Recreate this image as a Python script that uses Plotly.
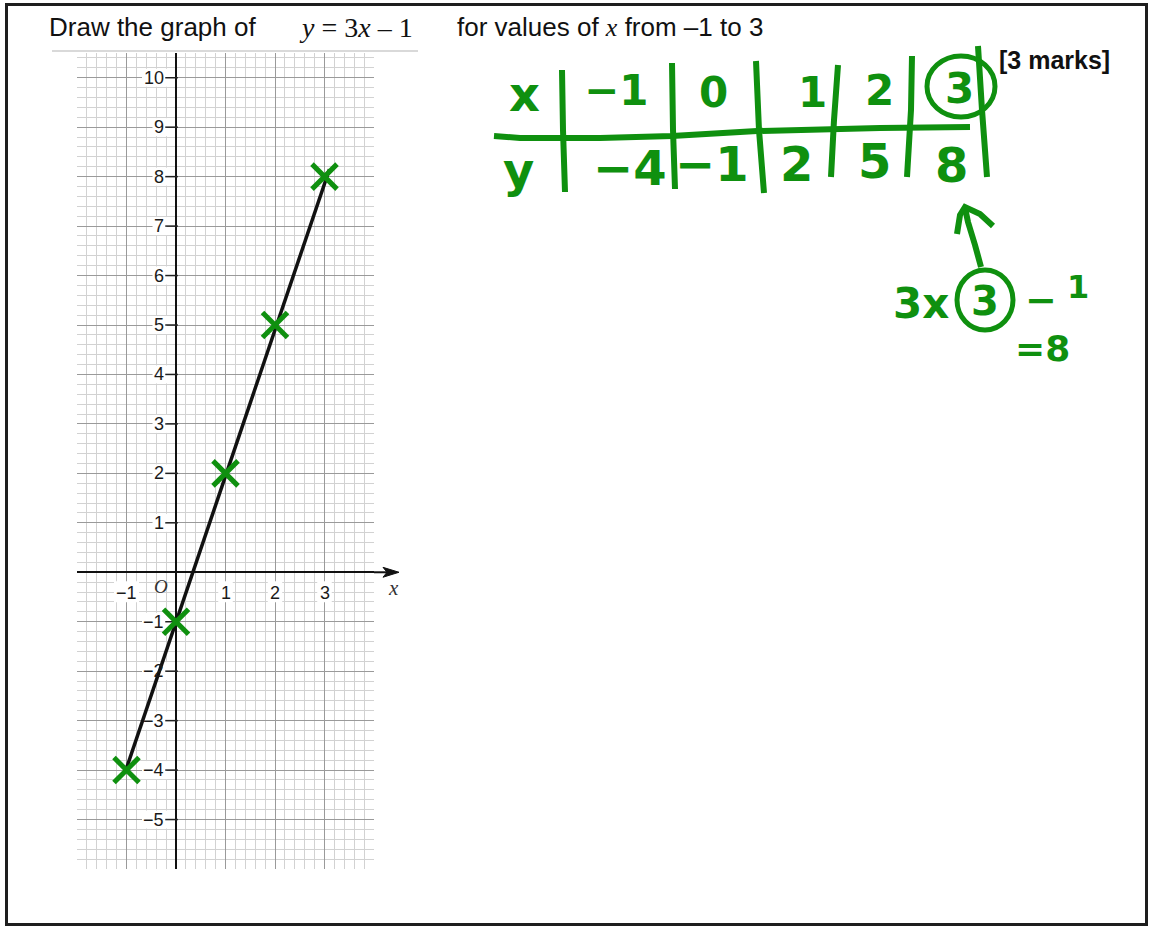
import plotly.graph_objects as go

W, H = 1149, 926

# values of x and y = 3x - 1 from the table of values
table_x = [-1, 0, 1, 2, 3]
table_y = [-4, -1, 2, 5, 8]

# ends of the ruled line through the plotted points
line_x = [-1.03, 3.1]
line_y = [-4.05, 8.15]

# axis numbering
y_tick_vals = [10, 9, 8, 7, 6, 5, 4, 3, 2, 1, -1, -2, -3, -4, -5]
y_tick_text = ["10", "9", "8", "7", "6", "5", "4", "3", "2", "1",
               "−1", "−2", "−3", "−4", "−5"]
x_tick_vals = [-1, 1, 2, 3]
x_tick_text = ["−1", "1", "2", "3"]

GREEN = "#0f900f"
INK = "#111111"
LABEL = "#1a1a1a"
TICK_SIZE = 18


def px(x):
    return x / W


def py(y):
    return 1 - y / H


def path(points):
    return "M " + " L ".join(f"{px(a):.5f},{py(b):.5f}" for a, b in points)


fig = go.Figure()

# short tick marks to the left of the y axis
fig.add_trace(go.Scatter(
    x=[-0.09] * len(y_tick_vals), y=y_tick_vals, mode="markers",
    marker=dict(symbol="line-ew-open", size=9, color="#222",
                line=dict(color="#222", width=1.5)),
    hoverinfo="skip"))

# ruled straight line
fig.add_trace(go.Scatter(
    x=line_x, y=line_y, mode="lines",
    line=dict(color=INK, width=3.5), hoverinfo="skip"))

# plotted crosses
fig.add_trace(go.Scatter(
    x=table_x, y=table_y, mode="markers",
    marker=dict(symbol="x-thin", size=25, color=GREEN,
                line=dict(color=GREEN, width=5)),
    hoverinfo="skip"))

grid_major = "#9a9a9a"
grid_minor = "#d2d2d2"

fig.update_layout(
    width=W, height=H,
    margin=dict(l=0, r=0, t=0, b=0),
    paper_bgcolor="white", plot_bgcolor="white",
    showlegend=False,
    xaxis=dict(
        domain=[px(77), px(374)], range=[-2, 4],
        tick0=0, dtick=1, showgrid=True, gridcolor=grid_major, gridwidth=1,
        minor=dict(tick0=0, dtick=0.2, showgrid=True,
                   gridcolor=grid_minor, gridwidth=1),
        zeroline=True, zerolinecolor=INK, zerolinewidth=2,
        showticklabels=False, ticks="", showline=False, fixedrange=True),
    yaxis=dict(
        domain=[py(869), py(53)], range=[-6, 10.5],
        tick0=0, dtick=1, showgrid=True, gridcolor=grid_major, gridwidth=1,
        minor=dict(tick0=0, dtick=0.2, showgrid=True,
                   gridcolor=grid_minor, gridwidth=1),
        zeroline=True, zerolinecolor=INK, zerolinewidth=2,
        showticklabels=False, ticks="", showline=False, fixedrange=True),
)

annotations = []
shapes = []

label_font = dict(family="Liberation Sans, Arial", size=TICK_SIZE, color=LABEL)
UX = 1 / 49.5  # one pixel in axis units

# y-axis numbers, each on a white patch that hides the grid
for v, t in zip(y_tick_vals, y_tick_text):
    w = 10.5 * len(t) + 3
    shapes.append(dict(
        type="rect", layer="between", xref="x", yref="y",
        x0=-(10 + w) * UX, x1=-9 * UX, y0=v - 9 * UX, y1=v + 9 * UX,
        fillcolor="white", line=dict(width=0)))
    annotations.append(dict(
        x=0, y=v, xref="x", yref="y", text=t, showarrow=False,
        xanchor="right", yanchor="middle", xshift=-10, font=label_font))

# x-axis numbers
for v, t in zip(x_tick_vals, x_tick_text):
    w = 10.5 * len(t) + 4
    shapes.append(dict(
        type="rect", layer="between", xref="x", yref="y",
        x0=v - w / 2 * UX, x1=v + w / 2 * UX, y0=-30 * UX, y1=-9 * UX,
        fillcolor="white", line=dict(width=0)))
    annotations.append(dict(
        x=v, y=0, xref="x", yref="y", text=t, showarrow=False,
        xanchor="center", yanchor="top", yshift=-9, font=label_font))

# origin and axis letter
shapes.append(dict(
    type="rect", layer="between", xref="paper", yref="paper",
    x0=px(153), x1=px(168), y0=py(597), y1=py(577),
    fillcolor="white", line=dict(width=0)))
annotations.append(dict(
    x=px(161), y=py(586), xref="paper", yref="paper", text="<i>O</i>",
    showarrow=False, xanchor="center", yanchor="middle",
    font=dict(family="Liberation Serif, Times New Roman", size=19, color="#333")))
annotations.append(dict(
    x=px(393), y=py(588), xref="paper", yref="paper", text="<i>x</i>",
    showarrow=False, xanchor="center", yanchor="middle",
    font=dict(family="Liberation Serif, Times New Roman", size=21, color="#333")))

# question heading
head_font = dict(family="Liberation Sans, Arial", size=26, color=INK)
annotations.append(dict(
    x=px(47), y=py(27), xref="paper", yref="paper",
    text="Draw the graph of", showarrow=False,
    xanchor="left", yanchor="middle", font=head_font))
annotations.append(dict(
    x=px(297), y=py(27), xref="paper", yref="paper",
    text="<i>y</i> = 3<i>x</i> – 1", showarrow=False,
    xanchor="left", yanchor="middle",
    font=dict(family="Liberation Serif, Times New Roman", size=28, color=INK)))
annotations.append(dict(
    x=px(455), y=py(27), xref="paper", yref="paper",
    text="for values of <span style='font-family:Liberation Serif'><i>x</i></span> from –1 to 3",
    showarrow=False, xanchor="left", yanchor="middle", font=head_font))
annotations.append(dict(
    x=px(997), y=py(60), xref="paper", yref="paper",
    text="<b>[3 marks]</b>", showarrow=False,
    xanchor="left", yanchor="middle",
    font=dict(family="Liberation Sans, Arial", size=25, color=INK)))

# handwritten table of values
hand = "DejaVu Sans"
head_pos = [(616, 90), (713, 92), (812, 92), (879, 90), (959, 88)]
row_pos = [(630, 168), (712, 164), (797, 164), (874, 161), (951, 165)]


def hand_text(t, x, y, size):
    return dict(x=px(x), y=py(y), xref="paper", yref="paper", text=t,
                showarrow=False, xanchor="center", yanchor="middle",
                font=dict(family=hand, size=size, color=GREEN, weight="bold"))


def fmt(v):
    return str(v).replace("-", "−")


annotations.append(hand_text("x", 524, 94, 48))
annotations.append(hand_text("y", 518, 170, 48))
for v, (x, y) in zip(table_x, head_pos):
    annotations.append(hand_text(fmt(v), x, y, 42))
for v, (x, y) in zip(table_y, row_pos):
    annotations.append(hand_text(fmt(v), x, y, 48))

# working for the last column
annotations.append(hand_text("3x", 921, 303, 42))
annotations.append(hand_text("3", 985, 301, 40))
annotations.append(hand_text("−", 1041, 300, 38))
annotations.append(hand_text("1", 1078, 287, 32))
annotations.append(hand_text("=8", 1042, 348, 36))

fig.update_layout(annotations=annotations)

pen = dict(color=GREEN, width=6)
shapes += [
    # page frame
    dict(type="rect", xref="paper", yref="paper",
         x0=px(6.5), x1=px(1146.5), y0=py(924.5), y1=py(4.5),
         line=dict(color="#1e1e1e", width=3)),
    # rule under heading
    dict(type="line", xref="paper", yref="paper",
         x0=px(52), x1=px(418), y0=py(51), y1=py(51),
         line=dict(color="#cccccc", width=1.5)),
    # x axis extension and arrow head
    dict(type="line", xref="paper", yref="y",
         x0=px(374), x1=px(392), y0=0, y1=0,
         line=dict(color=INK, width=2), layer="above"),
    dict(type="path", xref="paper", yref="y",
         path=(f"M {px(383)},-0.1 L {px(399)},0 L {px(383)},0.1 "
               f"L {px(387)},0 Z"),
         fillcolor=INK, line=dict(color=INK, width=1)),
    # table rules
    dict(type="path", xref="paper", yref="paper", line=pen,
         path=path([(494, 136), (520, 138), (600, 138), (672, 136),
                    (757, 131), (880, 128), (970, 127)])),
    dict(type="path", xref="paper", yref="paper", line=pen,
         path=path([(562, 70), (563, 130), (565, 192)])),
    dict(type="path", xref="paper", yref="paper", line=pen,
         path=path([(672, 63), (673, 130), (675, 189)])),
    dict(type="path", xref="paper", yref="paper", line=pen,
         path=path([(756, 61), (759, 130), (764, 193)])),
    dict(type="path", xref="paper", yref="paper", line=pen,
         path=path([(838, 65), (834, 120), (831, 177)])),
    dict(type="path", xref="paper", yref="paper", line=pen,
         path=path([(912, 56), (911, 110), (907, 177)])),
    dict(type="path", xref="paper", yref="paper", line=pen,
         path=path([(978, 46), (982, 110), (987, 177)])),
    # ring round the final x value
    dict(type="circle", xref="paper", yref="paper",
         x0=px(927), x1=px(995), y0=py(117), y1=py(56),
         line=dict(color=GREEN, width=5)),
    # arrow pointing back to the table
    dict(type="path", xref="paper", yref="paper", line=pen,
         path=path([(981, 267), (975, 245), (968, 222), (965, 208)])),
    dict(type="path", xref="paper", yref="paper", line=pen,
         path=path([(957, 234), (960, 215), (965, 207), (980, 214), (993, 226)])),
    # ring in the working
    dict(type="circle", xref="paper", yref="paper",
         x0=px(957), x1=px(1013), y0=py(330), y1=py(270),
         line=dict(color=GREEN, width=5)),
]
fig.update_layout(shapes=shapes)

fig.write_html("out.html")
